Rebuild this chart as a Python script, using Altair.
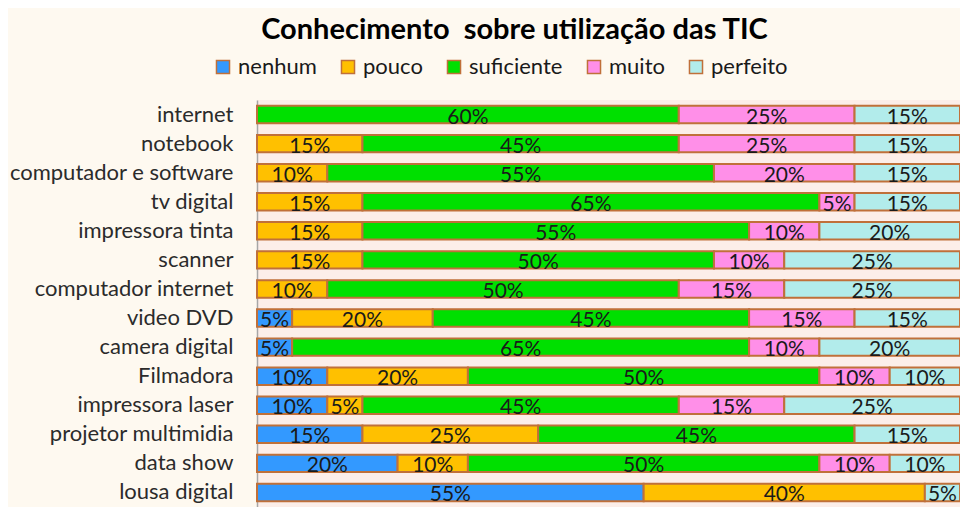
import altair as alt
import pandas as pd

categories = ["internet", "notebook", "computador e software", "tv digital",
              "impressora tinta", "scanner", "computador internet", "video DVD",
              "camera digital", "Filmadora", "impressora laser",
              "projetor multimidia", "data show", "lousa digital"]
levels = ["nenhum", "pouco", "suficiente", "muito", "perfeito"]
nenhum = [0, 0, 0, 0, 0, 0, 0, 5, 5, 10, 10, 15, 20, 55]
pouco = [0, 15, 10, 15, 15, 15, 10, 20, 0, 20, 5, 25, 10, 40]
suficiente = [60, 45, 55, 65, 55, 50, 50, 45, 65, 50, 45, 45, 50, 0]
muito = [25, 25, 20, 5, 10, 10, 15, 15, 10, 10, 15, 0, 10, 0]
perfeito = [15, 15, 15, 15, 20, 25, 25, 15, 20, 10, 25, 15, 10, 5]
colors = ["#3399FF", "#FFC000", "#00E000", "#FF8FE8", "#B2ECEB"]

series = [nenhum, pouco, suficiente, muito, perfeito]
rows = []
for i, c in enumerate(categories):
    for j, lvl in enumerate(levels):
        v = series[j][i]
        if v > 0:
            rows.append({"cat": c, "level": lvl, "order": j, "value": v})
df = pd.DataFrame(rows)

FONT = "Lato"

base = alt.Chart(df).transform_stack(
    stack="value", groupby=["cat"], as_=["x0", "x1"],
    sort=[alt.SortField("order", order="ascending")]
).transform_calculate(
    mid="(datum.x0 + datum.x1) / 2", lab="datum.value + '%'"
)

yenc = alt.Y("cat:N", sort=categories, title=None,
             scale=alt.Scale(paddingInner=0.4, paddingOuter=0.2),
             axis=alt.Axis(labelFont=FONT, labelFontSize=22, labelColor="#2b2b2b",
                           labelPadding=24, ticks=False, domainColor="#A6A6A6",
                           domainWidth=1.5, labelLimit=300, grid=False))
xscale = alt.Scale(domain=[0, 100], nice=False, zero=True)

bars = base.mark_bar(stroke="#C0703A", strokeWidth=2).encode(
    x=alt.X("x0:Q", scale=xscale, axis=None),
    x2="x1:Q",
    y=yenc,
    color=alt.Color("level:N", scale=alt.Scale(domain=levels, range=colors),
                    legend=alt.Legend(title=None, orient="none", legendX=-45, legendY=-44,
                                      direction="horizontal", symbolType="square",
                                      symbolSize=170, symbolStrokeColor="#C0703A",
                                      symbolStrokeWidth=1.5, labelFont=FONT,
                                      labelFontSize=22, labelColor="#1a1a1a",
                                      columnPadding=20, symbolOpacity=1)),
)

text = base.mark_text(font=FONT, fontSize=21, color="#1a1a1a", dy=3).encode(
    x=alt.X("mid:Q", scale=xscale, axis=None),
    y=alt.Y("cat:N", sort=categories),
    text="lab:N",
)

chart = (bars + text).properties(
    width=703, height=407,
    autosize=alt.AutoSizeParams(type="none"),
    padding={"left": 249, "top": 92, "right": 0, "bottom": 0},
    background="#FEF9F0",
    title=alt.TitleParams("Conhecimento\u00a0 sobre utilização das TIC", font=FONT,
                          fontSize=29, fontWeight="bold", color="#000000",
                          anchor="middle", frame="group", dx=-94, offset=11),
).configure_view(fill="#FCEEE9", stroke=None)

chart.save("out.html", embed_options={"renderer": "svg", "actions": False})
